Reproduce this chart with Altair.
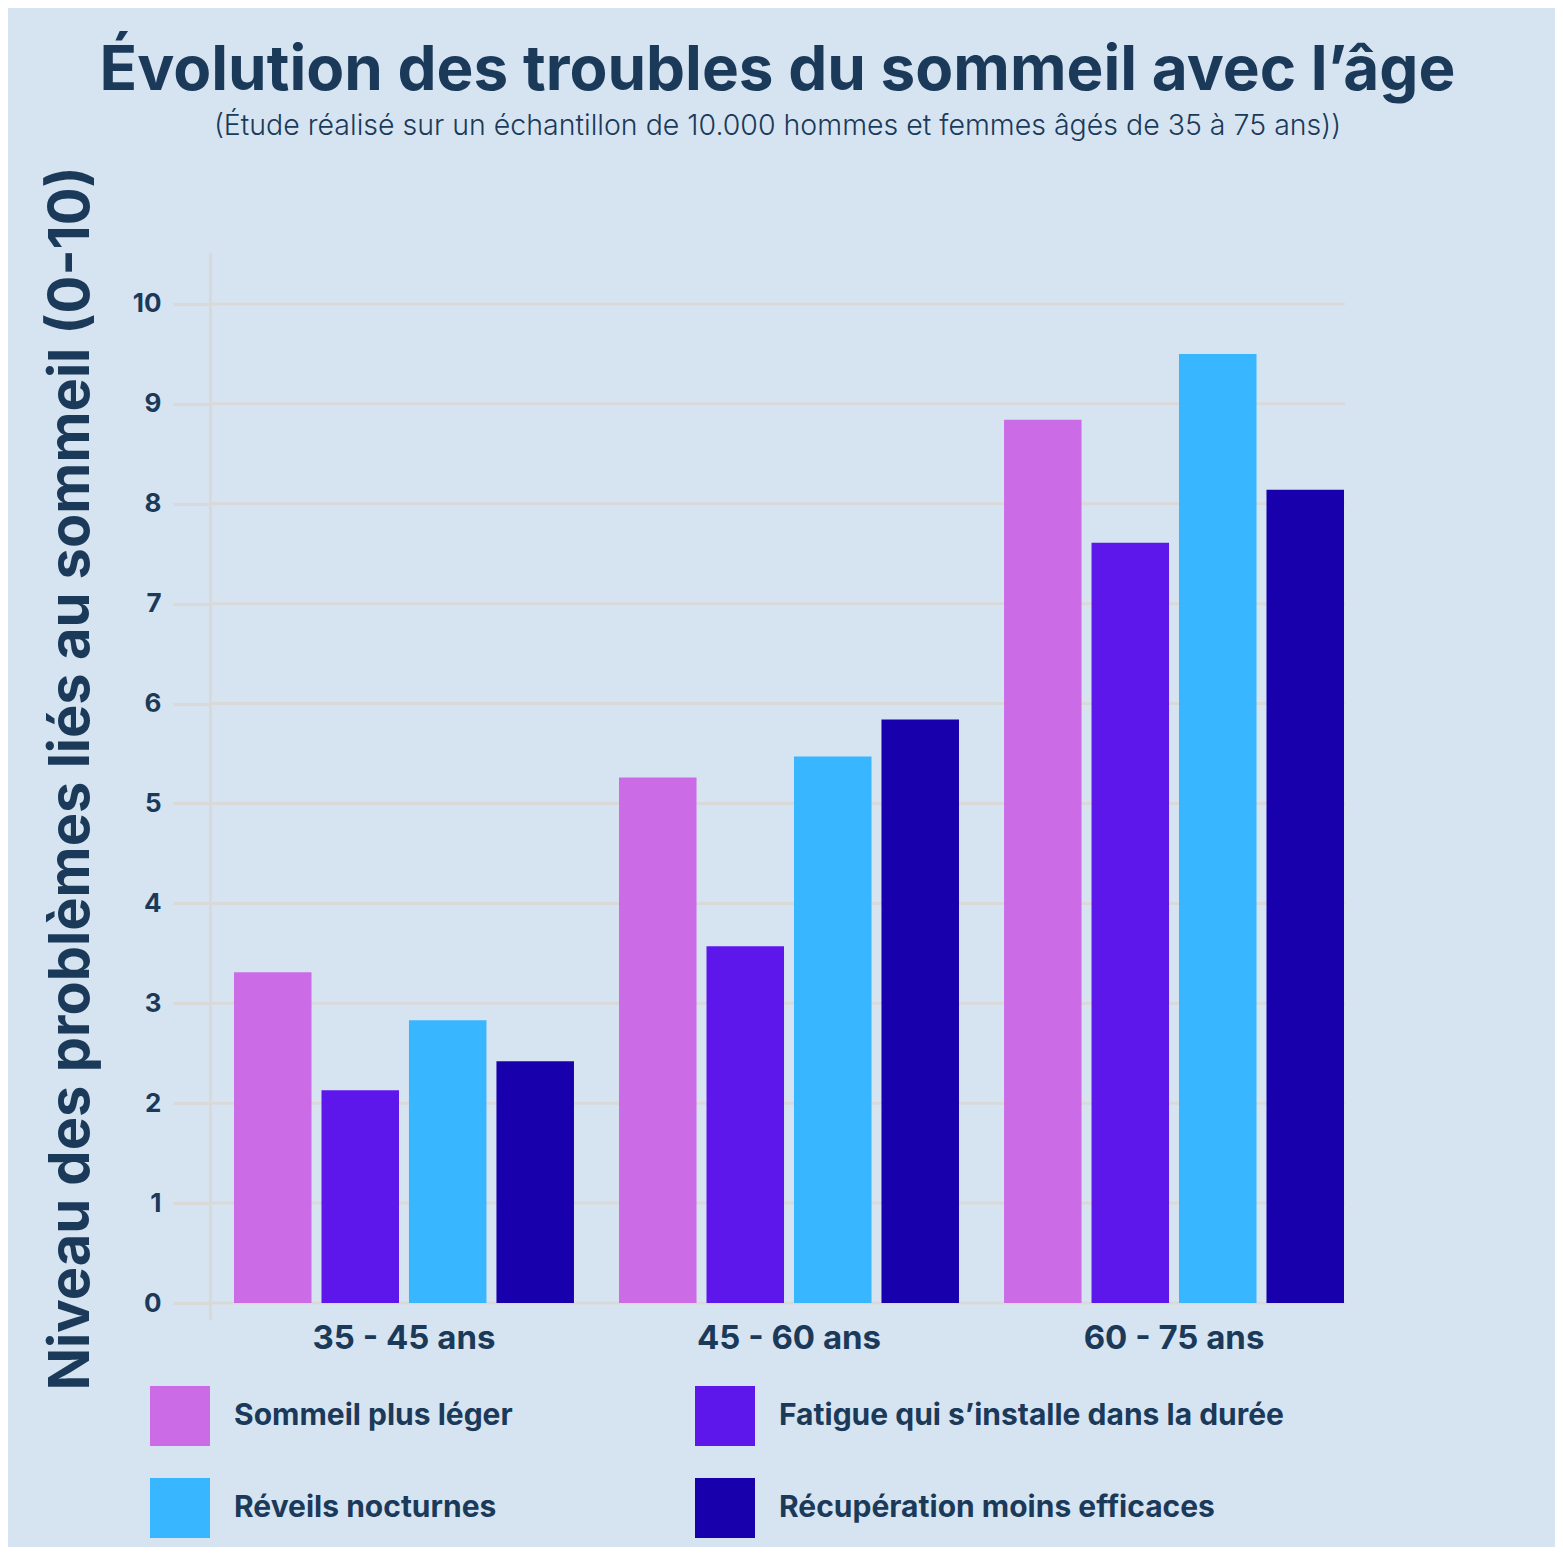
import altair as alt
import pandas as pd

groups = ["35 - 45 ans", "45 - 60 ans", "60 - 75 ans"]
series = [
    "Sommeil plus léger",
    "Fatigue qui s’installe dans la durée",
    "Réveils nocturnes",
    "Récupération moins efficaces",
]
sommeil = [3.31, 5.26, 8.84]
fatigue = [2.13, 3.57, 7.61]
reveils = [2.83, 5.47, 9.50]
recup = [2.42, 5.84, 8.14]
colors = ["#cb6ce6", "#5e17eb", "#38b6ff", "#1800ad"]
y_ticks = list(range(0, 11))

rows = []
for s, vals in zip(series, [sommeil, fatigue, reveils, recup]):
    for g, v in zip(groups, vals):
        rows.append({"groupe": g, "serie": s, "valeur": v})
df = pd.DataFrame(rows)
grid_df = pd.DataFrame({"valeur": y_ticks})

TXT = "#1b3a5a"
GRID = "#d9d9d9"
FONT = "Inter"
W, H = 1135, 1068

y_scale = alt.Scale(domain=[-0.17, 10.52], nice=False, zero=False)

grid = alt.Chart(grid_df).mark_rule(color=GRID, strokeWidth=3).encode(
    y=alt.Y("valeur:Q", scale=y_scale),
    x=alt.value(0),
    x2=alt.value(W),
)

bars = alt.Chart(df).mark_bar().encode(
    x=alt.X("groupe:N", sort=groups,
            scale=alt.Scale(range=[24, 1134], paddingInner=0.117, paddingOuter=0),
            axis=alt.Axis(title=None, labelAngle=0, domain=False, ticks=False, grid=False,
                          labelFontSize=33, labelFontWeight="bold", labelColor=TXT,
                          labelFont=FONT, labelPadding=2, labelLimit=400)),
    xOffset=alt.XOffset("serie:N", sort=series,
                        scale=alt.Scale(paddingInner=0.114, paddingOuter=0)),
    y=alt.Y("valeur:Q", scale=y_scale,
            axis=alt.Axis(values=y_ticks, format="d",
                          title="Niveau des problèmes liés au sommeil (0-10)",
                          titleFontSize=56, titleFontWeight="bold", titleColor=TXT,
                          titleFont=FONT, titlePadding=44, titleBaseline="alphabetic",
                          titleY=526, titleAlign="center",
                          labelFontSize=26, labelFontWeight="bold", labelColor=TXT,
                          labelFont=FONT, labelPadding=12,
                          tickSize=37, tickColor=GRID, tickWidth=3,
                          domainColor=GRID, domainWidth=3, grid=False)),
    y2=alt.datum(0),
    color=alt.Color("serie:N", sort=series,
                    scale=alt.Scale(domain=series, range=colors),
                    legend=alt.Legend(title=None, orient="none", legendX=-60, legendY=1134,
                                      direction="horizontal",
                                      columns=2, columnPadding=182, rowPadding=32,
                                      symbolType="square", symbolSize=3600,
                                      symbolStrokeWidth=0, labelOffset=24,
                                      labelFontSize=30, labelFontWeight="bold",
                                      labelColor=TXT, labelFont=FONT, padding=0,
                                      labelLimit=700)),
)

chart = alt.layer(grid, bars).properties(
    width=W,
    height=H,
    autosize=alt.AutoSizeParams(type="none"),
    padding={"left": 202, "top": 244, "right": 210, "bottom": 227},
    title=alt.TitleParams(
        text="Évolution des troubles du sommeil avec l’âge",
        subtitle="(Étude réalisé sur un échantillon de 10.000 hommes et femmes âgés de 35 à 75 ans))",
        anchor="middle", frame="group", fontSize=62, fontWeight="bold", color=TXT, font=FONT,
        subtitleFontSize=28.5, subtitleFontWeight=300, subtitleColor=TXT, subtitleFont=FONT,
        subtitlePadding=9, offset=24,
    ),
).configure(background="#d6e4f1").configure_view(stroke=None)

chart.save("out.html", embed_options={"renderer": "svg", "actions": False})
